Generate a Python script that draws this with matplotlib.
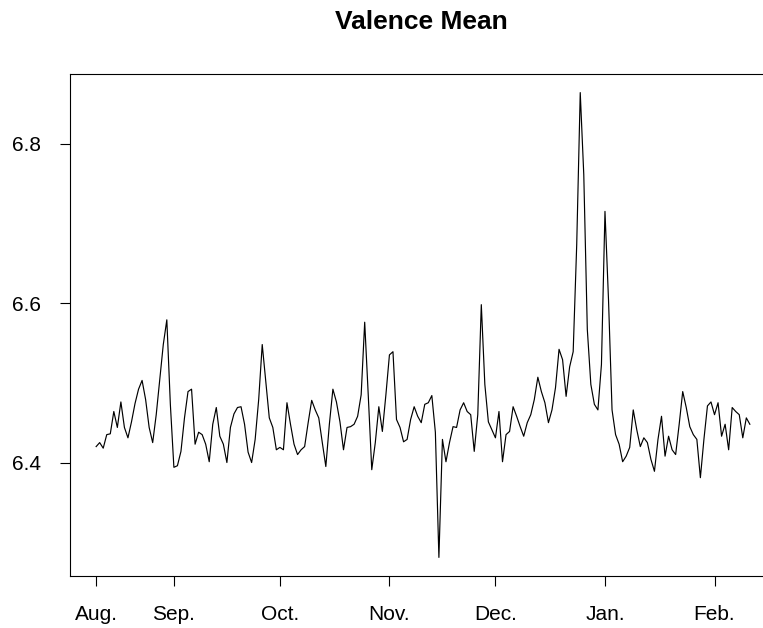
import matplotlib
matplotlib.use("Agg")
import matplotlib.pyplot as plt
import numpy as np

# Daily valence mean, starting around Aug 10
valence = [
    6.420, 6.425, 6.418, 6.435, 6.436, 6.464, 6.444, 6.476, 6.444, 6.431,
    6.451, 6.474, 6.492, 6.503, 6.479, 6.444, 6.425, 6.460, 6.504, 6.548,
    6.579, 6.473, 6.394, 6.396, 6.414, 6.456, 6.489, 6.492, 6.423, 6.438,
    6.435, 6.423, 6.401, 6.448, 6.469, 6.433, 6.423, 6.400, 6.444, 6.461,
    6.469, 6.470, 6.448, 6.413, 6.400, 6.429, 6.479, 6.548, 6.502, 6.456,
    6.444, 6.416, 6.419, 6.416, 6.475, 6.448, 6.423, 6.410, 6.416, 6.420,
    6.450, 6.478, 6.466, 6.456, 6.425, 6.395, 6.448, 6.492, 6.476, 6.451,
    6.416, 6.444, 6.445, 6.448, 6.458, 6.485, 6.576, 6.485, 6.391, 6.425,
    6.470, 6.439, 6.485, 6.535, 6.539, 6.454, 6.444, 6.426, 6.429, 6.454,
    6.470, 6.458, 6.450, 6.473, 6.475, 6.484, 6.438, 6.281, 6.429, 6.401,
    6.425, 6.445, 6.444, 6.466, 6.475, 6.464, 6.460, 6.414, 6.460, 6.598,
    6.498, 6.451, 6.441, 6.431, 6.464, 6.401, 6.435, 6.439, 6.470, 6.458,
    6.445, 6.433, 6.450, 6.460, 6.479, 6.507, 6.489, 6.475, 6.450, 6.466,
    6.494, 6.542, 6.529, 6.483, 6.520, 6.539, 6.673, 6.864, 6.761, 6.567,
    6.498, 6.473, 6.466, 6.523, 6.715, 6.604, 6.466, 6.435, 6.423, 6.401,
    6.408, 6.419, 6.466, 6.441, 6.420, 6.431, 6.425, 6.404, 6.389, 6.429,
    6.458, 6.408, 6.433, 6.416, 6.410, 6.448, 6.489, 6.469, 6.445, 6.435,
    6.429, 6.381, 6.429, 6.471, 6.476, 6.460, 6.475, 6.433, 6.448, 6.416,
    6.469, 6.464, 6.460, 6.431, 6.456, 6.448,
]
day_index = list(range(len(valence)))

month_labels = ["Aug.", "Sep.", "Oct.", "Nov.", "Dec.", "Jan.", "Feb."]
month_ticks = [0, 22, 52, 83, 113, 144, 175]

y_ticks = [6.4, 6.6, 6.8]
y_tick_labels = ["6.4", "6.6", "6.8"]

title = "Valence Mean"

plt.rcParams['font.family'] = ['Liberation Sans', 'DejaVu Sans']

W, H = 763, 628
fig = plt.figure(figsize=(W / 100, H / 100), dpi=100)
ax = fig.add_axes([70 / W, (H - 576) / H, 706 / W, 502 / H])

ax.plot(day_index, valence, color="black", linewidth=0.85)

n = len(valence)
xpad = (n - 1) * 0.04
ax.set_xlim(-xpad, (n - 1) + xpad)
vmin, vmax = min(valence), max(valence)
ypad = (vmax - vmin) * 0.04
ax.set_ylim(vmin - ypad, vmax + ypad)

ax.set_xticks(month_ticks)
ax.set_xticklabels(month_labels, fontsize=15)
ax.set_yticks(y_ticks)
ax.set_yticklabels(y_tick_labels, fontsize=15)
ax.tick_params(axis="x", length=7, width=0.8, pad=14, color="black")
ax.tick_params(axis="y", length=7, width=0.8, pad=14, color="black")

for s in ax.spines.values():
    s.set_linewidth(0.8)
    s.set_color("black")

fig.text(421 / W, 1 - 22 / H, title, ha="center", va="center",
         fontsize=19, fontweight="bold")

fig.savefig("out.png", dpi=100)
